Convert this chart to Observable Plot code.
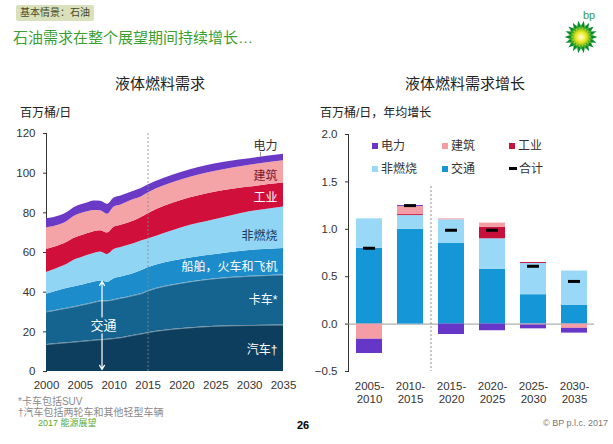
<!DOCTYPE html>
<html><head><meta charset="utf-8">
<script src="https://cdn.jsdelivr.net/npm/d3@7"></script>
<script src="https://cdn.jsdelivr.net/npm/@observablehq/plot@0.6"></script>
<style>
body{margin:0;background:#fff;width:613px;height:444px;position:relative;overflow:hidden;font-family:"Liberation Sans","Noto Sans CJK SC",sans-serif;}
.abs{position:absolute;white-space:nowrap;line-height:1;}
.sw{display:inline-block;width:6px;height:6px;margin-right:3px;vertical-align:middle;position:relative;top:-1px;}
</style></head><body>
<script>
// ---------- Left chart: liquid fuel demand (million barrels/day) ----------
const years = [2000,2001,2002,2003,2004,2005,2006,2007,2008,2009,2010,2011,2012,2013,2014,2015,2020,2025,2030,2035];
const cars     = [13.6,13.9,14.2,14.5,14.8,15.1,15.4,15.7,16.0,16.2,16.6,17.0,17.7,18.3,18.9,19.6,21.7,22.8,23.2,23.4];
const trucks   = [16.4,16.7,17.1,17.4,17.7,18.2,18.6,19.1,19.5,19.4,19.6,19.9,19.9,20.1,20.3,21.0,22.8,24.0,24.8,25.3];
const shipsRailAir = [9.0,9.4,9.7,9.9,10.1,10.1,10.3,10.2,10.1,9.4,10.6,10.7,10.9,11.2,11.6,11.7,12.0,12.2,13.0,13.3];
const nonCombusted = [11.0,11.2,11.6,12.2,13.4,13.8,14.2,14.5,14.7,14.0,14.7,14.9,15.0,14.9,15.0,14.5,16.0,17.6,19.5,21.0];
const industry = [11.5,11.3,11.0,11.0,11.0,11.1,11.0,11.0,10.7,10.8,11.3,11.3,11.3,11.5,11.8,12.7,13.8,13.9,12.5,12.0];
const buildings= [11.0,10.5,10.4,10.5,11.0,11.2,11.0,10.7,10.0,9.5,10.2,10.2,10.7,10.8,10.4,10.5,10.4,10.5,11.0,11.2];
const power    = [4.5,4.5,4.5,4.5,4.5,4.5,4.5,4.8,4.8,5.0,4.5,4.5,4.3,4.2,4.3,4.0,3.8,3.8,3.3,3.3];
const areaSeries = ["汽车","卡车","船舶，火车和飞机","非燃烧","工业","建筑","电力"];
const areaValues = [cars, trucks, shipsRailAir, nonCombusted, industry, buildings, power];
const areaLabels = ["汽车†","卡车*","船舶，火车和飞机","非燃烧","工业","建筑","电力"];
const xTicks = [2000,2005,2010,2015,2020,2025,2030,2035];
const yTicksL = [0,20,40,60,80,100,120];

// ---------- Right chart: growth (million barrels/day, annual average) ----------
const periods = ["2005-2010","2010-2015","2015-2020","2020-2025","2025-2030","2030-2035"];
const gTransport = [0.80,1.00,0.85,0.58,0.31,0.20];
const gNonComb   = [0.31,0.145,0.25,0.32,0.33,0.36];
const gIndustry  = [0.00,0.01,0.00,0.12,0.01,0.00];
const gBuildings = [-0.16,0.085,0.01,0.045,-0.01,-0.045];
const gPower     = [-0.15,0.01,-0.11,-0.07,-0.04,-0.05];
const gTotal     = [0.80,1.25,0.99,0.99,0.61,0.45];
const barSeries = ["交通","非燃烧","工业","建筑","电力"];
const barValues = [gTransport, gNonComb, gIndustry, gBuildings, gPower];
const yTicksR = [-0.5,0,0.5,1.0,1.5,2.0];

// ---------- colours ----------
const areaColors = ["#0d3e5e","#15638f","#1c8ccb","#91d5f4","#d0103b","#f4a3a7","#6a3ac6"];
const barColors  = ["#1597d7","#99d8f6","#c8103c","#f59da5","#6636c9"];
const FONT = '"Liberation Sans","Noto Sans CJK SC",sans-serif';

const areaRows = [];
areaSeries.forEach((s,i)=>years.forEach((y,j)=>areaRows.push({year:y, s, v:areaValues[i][j]})));
const barRows = [];
barSeries.forEach((s,i)=>periods.forEach((p,j)=>barRows.push({p, s, v:barValues[i][j]})));
const totalRows = periods.map((p,j)=>({p, v:gTotal[j]}));

function place(el, left, top){ el.style.position="absolute"; el.style.left=left+"px"; el.style.top=top+"px"; document.body.appendChild(el); }
function txt(text, left, top, css){ const d=document.createElement("div"); d.className="abs"; d.textContent=text; d.style.cssText+=css||""; d.style.left=left+"px"; d.style.top=top+"px"; document.body.appendChild(d); return d; }

// Left plot
const labelAt = {"电力":113.6,"建筑":98.5,"工业":87.4,"非燃烧":68,"船舶，火车和飞机":52.5,"卡车*":36,"汽车†":10.6};
const labelFill = {"电力":"#333","建筑":"#7a1a33","工业":"#fff","非燃烧":"#17385a","船舶，火车和飞机":"#fff","卡车*":"#fff","汽车†":"#fff"};
const left = Plot.plot({
  width: 300, height: 280, marginLeft: 46, marginRight: 17, marginTop: 13, marginBottom: 29,
  style: {fontFamily: FONT, fontSize: "11.5px", color: "#333", background: "transparent", overflow: "visible"},
  x: {domain: [2000, 2035], ticks: xTicks, tickFormat: d => String(d), tickSize: 0, tickPadding: 9, label: null},
  y: {domain: [0, 120], ticks: yTicksL, tickSize: 3, tickPadding: 8, line: true, label: null},
  color: {domain: areaSeries, range: areaColors},
  marks: [
    Plot.areaY(areaRows, {x: "year", y: "v", z: "s", fill: "s", order: areaSeries, curve: "monotone-x"}),
    Plot.lineY(areaRows.filter(d => d.s === areaSeries[0] || d.s === areaSeries[1]),
      Plot.stackY2({x: "year", y: "v", z: "s", order: areaSeries, stroke: "white", strokeOpacity: 0.45, strokeWidth: 0.9, curve: "monotone-x"})),
    Plot.ruleX([2015], {y1: 0, y2: 120, stroke: "#8a8a8a", strokeDasharray: "2,2", strokeOpacity: 0.8}),
    Plot.ruleX([2031.6], {y1: 108.2, y2: 110.6, stroke: "#777", strokeWidth: 0.8}),
    Plot.text(areaLabels, {x: 2035, dx: -6, y: d => labelAt[d], text: d => d, textAnchor: "end", fill: d => labelFill[d], fontSize: 12}),
    Plot.arrow([{x: 2008.2, a: 27.5, b: 45.5}, {x: 2008.2, a: 19, b: 1}], {x1: "x", x2: "x", y1: "a", y2: "b", stroke: "#fff", strokeWidth: 1.2, headLength: 6}),
    Plot.text(["交通"], {x: 2008.4, y: 23.2, text: d => d, fill: "#fff", fontSize: 13})
  ]
});
place(left, 0, 120);

// Right plot
const right = Plot.plot({
  width: 313, height: 280, marginLeft: 48, marginRight: 19, marginTop: 14, marginBottom: 29,
  style: {fontFamily: FONT, fontSize: "11.5px", color: "#333", background: "transparent", overflow: "visible"},
  x: {domain: periods, paddingInner: 0.37, paddingOuter: 0.185, axis: null},
  y: {domain: [-0.5, 2.0], ticks: yTicksR, tickFormat: d3.format(".1f"), tickSize: 3, tickPadding: 8, line: true, label: null},
  color: {domain: barSeries, range: barColors},
  marks: [
    Plot.ruleY([0], {stroke: "#9a9a9a"}),
    Plot.barY(barRows, {x: "p", y: "v", fill: "s", order: barSeries}),
    Plot.tickY(totalRows, {x: "p", y: "v", stroke: "#000", strokeWidth: 3, insetLeft: 7, insetRight: 7}),
    Plot.ruleX(["2015-2020"], {dx: -20.5, y1: 1.45, y2: -0.5, stroke: "#8a8a8a", strokeDasharray: "2,2"}),
    Plot.text(periods, {x: d => d, text: d => d.replace("-", "-\n"), frameAnchor: "bottom", dy: 9, lineAnchor: "top", lineHeight: 1.12, fill: "#333"})
  ]
});
place(right, 300, 120);

// Legend (right chart)
const legendItems = [
  {t: "电力", c: barColors[4], x: 372, y: 146},
  {t: "建筑", c: barColors[3], x: 442, y: 146},
  {t: "工业", c: barColors[2], x: 509, y: 146},
  {t: "非燃烧", c: barColors[1], x: 372, y: 169},
  {t: "交通", c: barColors[0], x: 442, y: 169},
];
legendItems.forEach(it => {
  const d = document.createElement("div"); d.className = "abs";
  d.style.fontSize = "12px"; d.style.color = "#333";
  d.innerHTML = `<span class="sw" style="background:${it.c}"></span>${it.t}`;
  place(d, it.x, it.y - 6);
});
{
  const d = document.createElement("div"); d.className = "abs";
  d.style.fontSize = "12px"; d.style.color = "#333";
  d.innerHTML = `<span style="display:inline-block;width:8px;height:3px;background:#000;margin-right:2px;vertical-align:middle;position:relative;top:-1px"></span>合计`;
  place(d, 509, 163);
}

// Titles & texts
txt("基本情景：石油", 16, 5, "font-size:10px;color:#4a4a2a;background:#d8e1bc;padding:3px 4px;border-radius:2px;");
txt("石油需求在整个展望期间持续增长…", 13, 30, "font-size:15px;color:#3c9f32;");
const t1 = txt("液体燃料需求", 160, 76, "font-size:15px;color:#222;"); t1.style.transform = "translateX(-50%)";
const t2 = txt("液体燃料需求增长", 465, 76, "font-size:15px;color:#222;"); t2.style.transform = "translateX(-50%)";
txt("百万桶/日", 20, 107, "font-size:12px;color:#222;");
txt("百万桶/日，年均增长", 320, 107, "font-size:12px;color:#222;");
txt("*卡车包括SUV", 18, 397, "font-size:10px;color:#8a8a8a;");
txt("†汽车包括两轮车和其他轻型车辆", 18, 408, "font-size:10px;color:#8a8a8a;");
txt("2017 能源展望", 38, 419, "font-size:9px;color:#5aaa2a;");
txt("26", 297, 420, "font-size:11px;color:#000;font-weight:bold;");
txt("© BP p.l.c. 2017", 543, 419, "font-size:9px;color:#777;");
txt("bp", 583, 10, "font-size:11px;color:#3a9a3a;");

// bp helios logo (decoration)
(function(){
  const ns = "http://www.w3.org/2000/svg";
  const svg = document.createElementNS(ns, "svg");
  svg.setAttribute("width", 36); svg.setAttribute("height", 36);
  const cx = 18, cy = 18;
  function star(n, r1, r2, rot, fill){
    const pts = [];
    for (let i = 0; i < 2*n; i++){ const r = i%2 ? r2 : r1; const a = rot + Math.PI*i/n; pts.push((cx + r*Math.cos(a)).toFixed(2)+","+(cy + r*Math.sin(a)).toFixed(2)); }
    const p = document.createElementNS(ns, "polygon"); p.setAttribute("points", pts.join(" ")); p.setAttribute("fill", fill); svg.appendChild(p);
  }
  const defs = document.createElementNS(ns, "defs");
  defs.innerHTML = '<radialGradient id="g"><stop offset="0" stop-color="#ffffff"/><stop offset="0.35" stop-color="#fff36a"/><stop offset="0.75" stop-color="#d8e21a"/><stop offset="1" stop-color="#8cc21e"/></radialGradient>';
  svg.appendChild(defs);
  star(18, 16.5, 11, 0, "#0a8a2e");
  star(18, 13, 9, Math.PI/18, "#46ad2a");
  star(18, 10.5, 7.5, 0, "#a6cf1f");
  const c = document.createElementNS(ns, "circle"); c.setAttribute("cx", cx); c.setAttribute("cy", cy); c.setAttribute("r", 8); c.setAttribute("fill", "url(#g)"); svg.appendChild(c);
  place(svg, 563, 19);
})();
</script>
</body></html>
